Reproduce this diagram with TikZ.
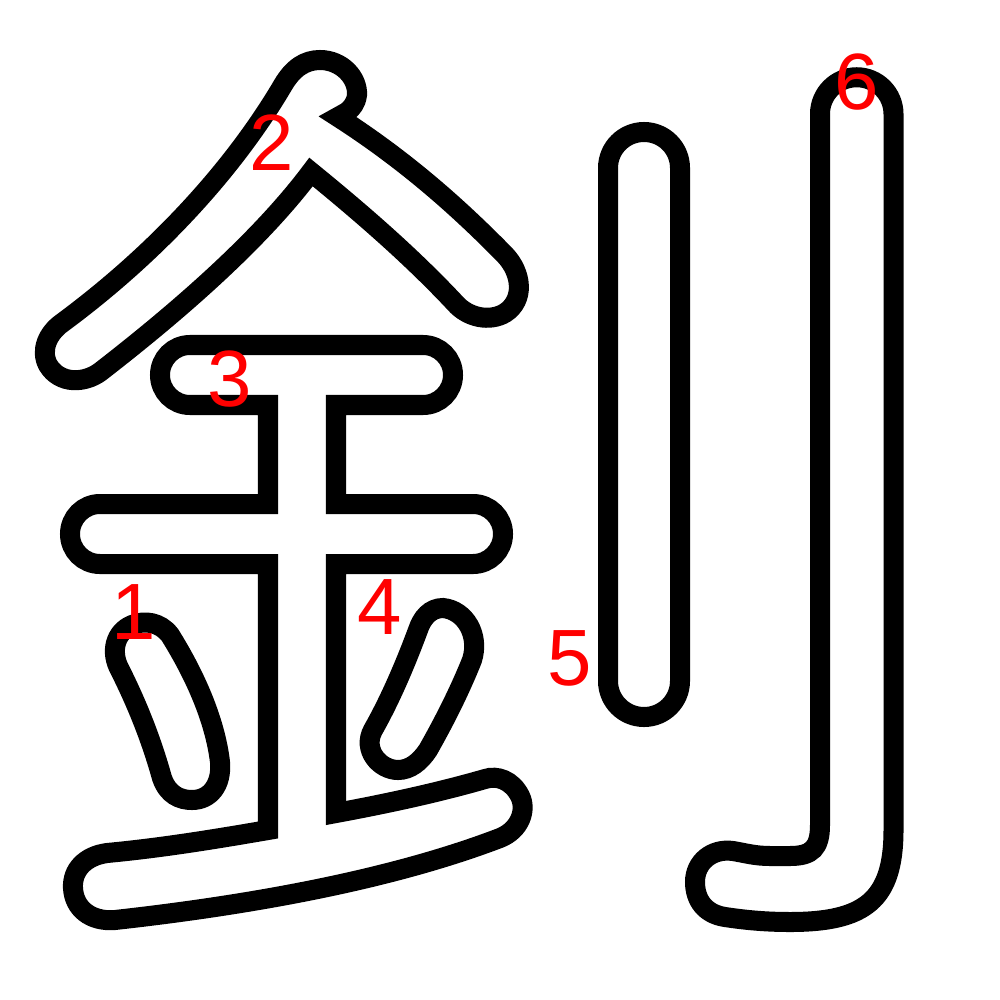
\documentclass[tikz,border=0pt]{standalone}
\usepackage{fontspec}
\newfontfamily\numfont{Liberation Sans}
\tikzset{
  outline/.style={draw=black, line width=2mm},
  num/.style={text=red, inner sep=0pt, font=\numfont\fontsize{22.7}{24}\selectfont},
}

\begin{document}
\begin{tikzpicture}[x=0.01cm, y=-0.01cm]
    \useasboundingbox (0,0) rectangle (1000,1000);
    % roof
    \draw[outline] (311,172) .. controls (260,240) and (180,310) .. (100,372)
      .. controls (85,383) and (60,385) .. (48,365)
      .. controls (40,350) and (48,333) .. (62,323)
      .. controls (150,258) and (230,175) .. (283,85)
      .. controls (293,68) and (305,60) .. (320,60)
      .. controls (342,60) and (358,78) .. (357,95)
      .. controls (356,103) and (352,108) .. (347,112) -- (338,117)
      .. controls (405,160) and (458,207) .. (505,255)
      .. controls (522,273) and (525,300) .. (505,313)
      .. controls (490,322) and (468,318) .. (455,303)
      .. controls (410,255) and (360,212) .. cycle;
    % three bars and stem
    \draw[outline] (268,405) -- (190,405) arc(90:270:30) -- (423,345) arc(-90:90:30)
      -- (336,405) -- (336,504) -- (473,504) arc(-90:90:30) -- (336,564) -- (336,813)
      .. controls (390,803) and (440,792) .. (485,779)
      .. controls (497,775) and (512,780) .. (520,796)
      .. controls (527,810) and (520,830) .. (500,838)
      .. controls (390,880) and (250,905) .. (115,920)
      .. controls (90,922) and (74,908) .. (73,888)
      .. controls (72,870) and (85,856) .. (107,853)
      .. controls (160,848) and (210,840) .. (268,830)
      -- (268,564) -- (100,564) arc(90:270:30) -- (268,504) -- cycle;
    % left dot
    \draw[outline] (120,670) .. controls (135,700) and (150,735) .. (162,778)
      .. controls (168,795) and (180,800) .. (192,800)
      .. controls (210,800) and (222,785) .. (220,762)
      .. controls (215,720) and (195,675) .. (170,635)
      .. controls (160,622) and (145,620) .. (132,625)
      .. controls (115,632) and (110,652) .. cycle;
    % right dot
    \draw[outline] (418,630) .. controls (405,665) and (390,700) .. (373,730)
      .. controls (362,750) and (380,770) .. (398,770)
      .. controls (410,770) and (420,762) .. (428,750)
      .. controls (445,720) and (460,690) .. (472,660)
      .. controls (480,635) and (465,610) .. (443,608)
      .. controls (430,608) and (422,618) .. cycle;
    % short vertical
    \draw[outline] (608,168) arc(180:360:36) -- (680,681) arc(0:180:36) -- cycle;
    % hook
    \draw[outline] (820,114) arc(180:360:36.75) -- (893.5,830)
      .. controls (893.5,900) and (865,922) .. (790,922)
      .. controls (765,922) and (745,920) .. (725,917)
      .. controls (705,914) and (695,900) .. (695,882)
      .. controls (695,862) and (712,848) .. (733,851)
      .. controls (745,853) and (755,856) .. (770,856)
      -- (790,856) .. controls (812,856) and (820,848) .. (820,825) -- cycle;
    % stroke order
    \node[num] (n1) at (134,612) {1};
    \node[num] (n2) at (272,143) {2};
    \node[num] (n3) at (230,379) {3};
    \node[num] (n4) at (380,607) {4};
    \node[num] (n5) at (570,658) {5};
    \node[num] (n6) at (857,82) {6};
\end{tikzpicture}
\end{document}
